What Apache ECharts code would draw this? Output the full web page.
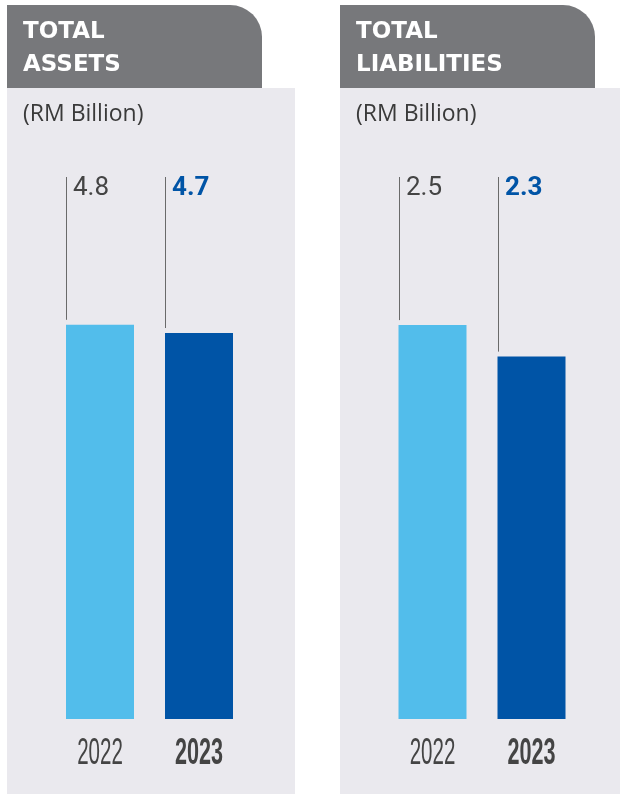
<!DOCTYPE html>
<html>
<head>
<meta charset="utf-8">
<script src="https://cdn.jsdelivr.net/npm/echarts@6/dist/echarts.min.js"></script>
<style>
html,body{margin:0;padding:0;background:#fff;}
#c{width:620px;height:794px;}
</style>
</head>
<body>
<div id="c"></div>
<script>
var years = ['2022', '2023'];
var assets = [4.8, 4.7];
var liabilities = [2.5, 2.3];
var panelTitles = ['TOTAL\nASSETS', 'TOTAL\nLIABILITIES'];
var unitLabel = '(RM Billion)';

var LIGHT = '#52BDEB', DARK = '#0054A6';
var PANEL = '#EAE9EE', TAB = '#77787B', TXT = '#444444';

var chart = echarts.init(document.getElementById('c'), null, {renderer: 'canvas'});
var yMax = [6.6, 3.44];

function leaderSeries(idx, data) {
  return {
    type: 'custom',
    xAxisIndex: idx, yAxisIndex: idx,
    z: 5,
    data: data.map(function (v, i) { return [i, v]; }),
    renderItem: function (params, api) {
      var i = api.value(0), v = api.value(1);
      var top = api.coord([i, v]);
      var ymax = api.coord([i, yMax[idx]])[1];
      var base = api.coord([i, 0])[1];
      var x = Math.round(top[0] - 34) + 0.5;
      var bold = i === 1;
      return {
        type: 'group',
        children: [
          {type: 'line', shape: {x1: x, y1: ymax, x2: x, y2: top[1] - 5},
           style: {stroke: '#6a6a6a', lineWidth: 1}},
          {type: 'text', x: x + 6.5, y: ymax + 11,
           style: {text: v.toFixed(1), fontFamily: 'Roboto', fontSize: 26,
                   fontWeight: bold ? 'bold' : 'normal',
                   fill: bold ? DARK : TXT, verticalAlign: 'middle', align: 'left'}},
          // category (year) label under the bar, condensed
          {type: 'text', x: top[0], y: base + 35, scaleX: bold ? 0.6 : 0.57, scaleY: 1,
           style: {text: years[i], fontFamily: 'Liberation Sans', fontSize: 36,
                   fontWeight: bold ? 'bold' : 'normal',
                   fill: TXT, verticalAlign: 'middle', align: 'center'}}
        ]
      };
    }
  };
}

function xAxisCfg(idx) {
  return {
    type: 'category', gridIndex: idx, data: years,
    axisLine: {show: false}, axisTick: {show: false}, axisLabel: {show: false}
  };
}
function yAxisCfg(idx) {
  return {type: 'value', gridIndex: idx, min: 0, max: yMax[idx], show: false, splitLine: {show: false}};
}

var option = {
  animation: false,
  backgroundColor: '#ffffff',
  graphic: [
    {type: 'rect', shape: {x: 7, y: 88, width: 288, height: 706}, style: {fill: PANEL}, z: -10},
    {type: 'rect', shape: {x: 340, y: 88, width: 280, height: 706}, style: {fill: PANEL}, z: -10},
    {type: 'rect', shape: {x: 7, y: 5, width: 255, height: 83, r: [0, 32, 0, 0]}, style: {fill: TAB}, z: -10},
    {type: 'rect', shape: {x: 340, y: 5, width: 255, height: 83, r: [0, 32, 0, 0]}, style: {fill: TAB}, z: -10},
    {type: 'text', x: 23, y: 16, style: {text: panelTitles[0], fill: '#fff', fontFamily: 'DejaVu Sans',
      fontWeight: 'bold', fontSize: 23, lineHeight: 33, verticalAlign: 'top'}},
    {type: 'text', x: 356, y: 16, style: {text: panelTitles[1], fill: '#fff', fontFamily: 'DejaVu Sans',
      fontWeight: 'bold', fontSize: 23, lineHeight: 33, verticalAlign: 'top'}},
    {type: 'text', x: 23, y: 114, style: {text: unitLabel, fill: '#3a3a3a', fontFamily: 'Open Sans',
      fontSize: 23, verticalAlign: 'middle'}},
    {type: 'text', x: 356, y: 114, style: {text: unitLabel, fill: '#3a3a3a', fontFamily: 'Open Sans',
      fontSize: 23, verticalAlign: 'middle'}}
  ],
  grid: [
    {left: 50.5, width: 198, top: 177, bottom: 75},
    {left: 383, width: 198, top: 177, bottom: 75}
  ],
  xAxis: [xAxisCfg(0), xAxisCfg(1)],
  yAxis: [yAxisCfg(0), yAxisCfg(1)],
  series: [
    {type: 'bar', xAxisIndex: 0, yAxisIndex: 0, barWidth: 68,
     data: assets.map(function (v, i) { return {value: v, itemStyle: {color: i === 0 ? LIGHT : DARK}}; })},
    {type: 'bar', xAxisIndex: 1, yAxisIndex: 1, barWidth: 68,
     data: liabilities.map(function (v, i) { return {value: v, itemStyle: {color: i === 0 ? LIGHT : DARK}}; })},
    leaderSeries(0, assets),
    leaderSeries(1, liabilities)
  ]
};
chart.setOption(option);
</script>
</body>
</html>
